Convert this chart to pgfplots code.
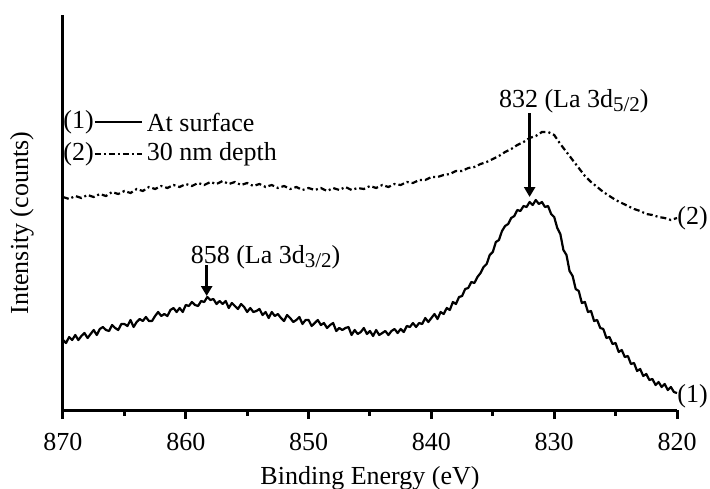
\documentclass[border=0pt]{standalone}
\usepackage{fontspec}
\setmainfont{Liberation Serif}
\usepackage{pgfplots}
\pgfplotsset{compat=1.18}
\usetikzlibrary{arrows.meta}

% solid curve: at surface (y in arbitrary counts)
\pgfplotstableread{
E y
870.00 70
869.75 67
869.50 73
869.25 70
869.00 75
868.75 70
868.50 74
868.25 77
868.00 72
867.75 76
867.50 80
867.25 75
867.00 81
866.75 83
866.50 80
866.25 79
866.00 85
865.75 82
865.50 80
865.25 86
865.00 86
864.75 84
864.50 90
864.25 83
864.00 88
863.75 91
863.50 89
863.25 93
863.00 89
862.75 89
862.50 94
862.25 98
862.00 94
861.75 96
861.50 94
861.25 100
861.00 102
860.75 98
860.50 102
860.25 98
860.00 105
859.75 104
859.50 108
859.25 105
859.00 104
858.75 109
858.50 108
858.25 113
858.00 110
857.75 111
857.50 106
857.25 109
857.00 106
856.75 109
856.50 102
856.25 107
856.00 104
855.75 101
855.50 106
855.25 103
855.00 98
854.75 102
854.50 98
854.25 99
854.00 101
853.75 95
853.50 98
853.25 92
853.00 98
852.75 94
852.50 96
852.25 92
852.00 89
851.75 95
851.50 92
851.25 88
851.00 90
850.75 93
850.50 86
850.25 90
850.00 90
849.75 84
849.50 87
849.25 90
849.00 85
848.75 87
848.50 82
848.25 85
848.00 87
847.75 79
847.50 82
847.25 80
847.00 82
846.75 83
846.50 75
846.25 80
846.00 76
845.75 78
845.50 82
845.25 76
845.00 79
844.75 74
844.50 80
844.25 75
844.00 77
843.75 79
843.50 75
843.25 79
843.00 81
842.75 77
842.50 81
842.25 78
842.00 84
841.75 83
841.50 87
841.25 83
841.00 87
840.75 86
840.50 92
840.25 88
840.00 92
839.75 96
839.50 91
839.25 98
839.00 96
838.75 102
838.50 100
838.25 108
838.00 106
837.75 113
837.50 114
837.25 121
837.00 122
836.75 128
836.50 127
836.25 133
836.00 137
835.75 143
835.50 146
835.25 155
835.00 158
834.75 168
834.50 170
834.25 179
834.00 184
833.75 186
833.50 192
833.25 194
833.00 200
832.75 199
832.50 204
832.25 203
832.00 208
831.75 205
831.50 210
831.25 206
831.00 208
830.75 203
830.50 204
830.25 196
830.00 193
829.75 182
829.50 176
829.25 160
829.00 155
828.75 139
828.50 134
828.25 121
828.00 119
827.75 107
827.50 108
827.25 98
827.00 99
826.75 89
826.50 90
826.25 82
826.00 81
825.75 72
825.50 73
825.25 66
825.00 67
824.75 58
824.50 60
824.25 53
824.00 54
823.75 46
823.50 47
823.25 39
823.00 41
822.75 34
822.50 36
822.25 30
822.00 31
821.75 25
821.50 28
821.25 23
821.00 26
820.75 20
820.50 23
820.25 18
820.00 17
}\surface

% dash-dot curve: 30 nm depth
\pgfplotstableread{
E y
870.0 213
869.5 211
869.0 214
868.5 212
868.0 215
867.5 213
867.0 216
866.5 214
866.0 218
865.5 216
865.0 219
864.5 217
864.0 221
863.5 219
863.0 223
862.5 221
862.0 224
861.5 222
861.0 225
860.5 223
860.0 226
859.5 224
859.0 227
858.5 225
858.0 228
857.5 226
857.0 229
856.5 226
856.0 228
855.5 225
855.0 227
854.5 224
854.0 226
853.5 223
853.0 225
852.5 222
852.0 224
851.5 221
851.0 223
850.5 220
850.0 222
849.5 220
849.0 222
848.5 219
848.0 222
847.5 220
847.0 223
846.5 220
846.0 222
845.5 221
845.0 224
844.5 222
844.0 225
843.5 223
843.0 226
842.5 225
842.0 228
841.5 227
841.0 230
840.5 230
840.0 233
839.5 233
839.0 235
838.5 236
838.0 239
837.5 239
837.0 242
836.5 243
836.0 246
835.5 248
835.0 251
834.5 254
834.0 258
833.5 261
833.0 265
832.5 268
832.0 272
831.5 274
831.0 278
830.5 278
830.0 275
829.5 266
829.0 258
828.5 250
828.0 242
827.5 234
827.0 228
826.5 223
826.0 218
825.5 214
825.0 210
824.5 207
824.0 204
823.5 201
823.0 199
822.5 196
822.0 195
821.5 193
821.0 192
820.5 190
820.0 192
}\depth

\newcommand{\sub}[1]{\raisebox{-0.35ex}{\fontsize{10.5}{12}\selectfont #1}}

\begin{document}
\begin{tikzpicture}
\fontsize{13}{15.6}\selectfont
\useasboundingbox (0,0) rectangle (355pt,244pt);
\begin{axis}[
    at={(31.5pt,39pt)}, anchor=south west,
    width=307pt, height=197.5pt, scale only axis,
    x dir=reverse,
    xmin=820, xmax=870, ymin=0, ymax=395,
    axis x line*=bottom, axis y line*=left,
    axis line style={line width=1.5pt, -},
    xtick={820,830,...,870},
    minor xtick={825,835,...,865},
    ytick=\empty,
    tick align=outside,
    major tick length=4.5pt, minor tick length=2.8pt,
    every tick/.style={black, line width=1.5pt},
    tick label style={font=\fontsize{13}{15.6}\selectfont},
    xticklabel style={yshift=-2.5pt},
    /pgf/number format/assume math mode=true,
    xlabel={Binding Energy (eV)},
    xlabel style={yshift=1pt},
    ylabel={Intensity (counts)},
    ylabel style={at={(axis description cs:-0.067,0.473)}, anchor=center},
    label style={font=\fontsize{13}{15.6}\selectfont},
    clip=false,
]
\addplot[black, line width=1.1pt, line join=round] table[x=E, y=y] {\surface};
\addplot[black, line width=1.1pt, dash pattern=on 3pt off 1.5pt on 1pt off 1.5pt] table[x=E, y=y] {\depth};

% annotations
\node[inner sep=0pt] at (axis cs:828.4,309) {832 (La 3d\sub{5/2})};
\draw[line width=1.5pt, -{Triangle[length=5pt, width=5.5pt]}] (axis cs:832,297) -- (axis cs:832,213);
\node[inner sep=0pt] at (axis cs:853.5,153) {858 (La 3d\sub{3/2})};
\draw[line width=1.5pt, -{Triangle[length=5pt, width=5.5pt]}] (axis cs:858.3,145) -- (axis cs:858.3,114);
\node[anchor=west, inner sep=0pt] at (axis cs:820,192) {(2)};
\node[anchor=west, inner sep=0pt] at (axis cs:820,14) {(1)};

% legend
\node[anchor=west, inner sep=0pt] at (axis cs:870,288) {(1)};
\draw[line width=1pt] (axis cs:867.4,288) -- (axis cs:863.6,288);
\node[anchor=west, inner sep=0pt] at (axis cs:863.2,288) {At surface};
\node[anchor=west, inner sep=0pt] at (axis cs:870,256) {(2)};
\draw[line width=1pt, dash pattern=on 3pt off 1.5pt on 1pt off 1.5pt] (axis cs:867.4,256) -- (axis cs:863.6,256);
\node[anchor=west, inner sep=0pt] at (axis cs:863.2,256) {30 nm depth};
\end{axis}
\end{tikzpicture}
\end{document}
